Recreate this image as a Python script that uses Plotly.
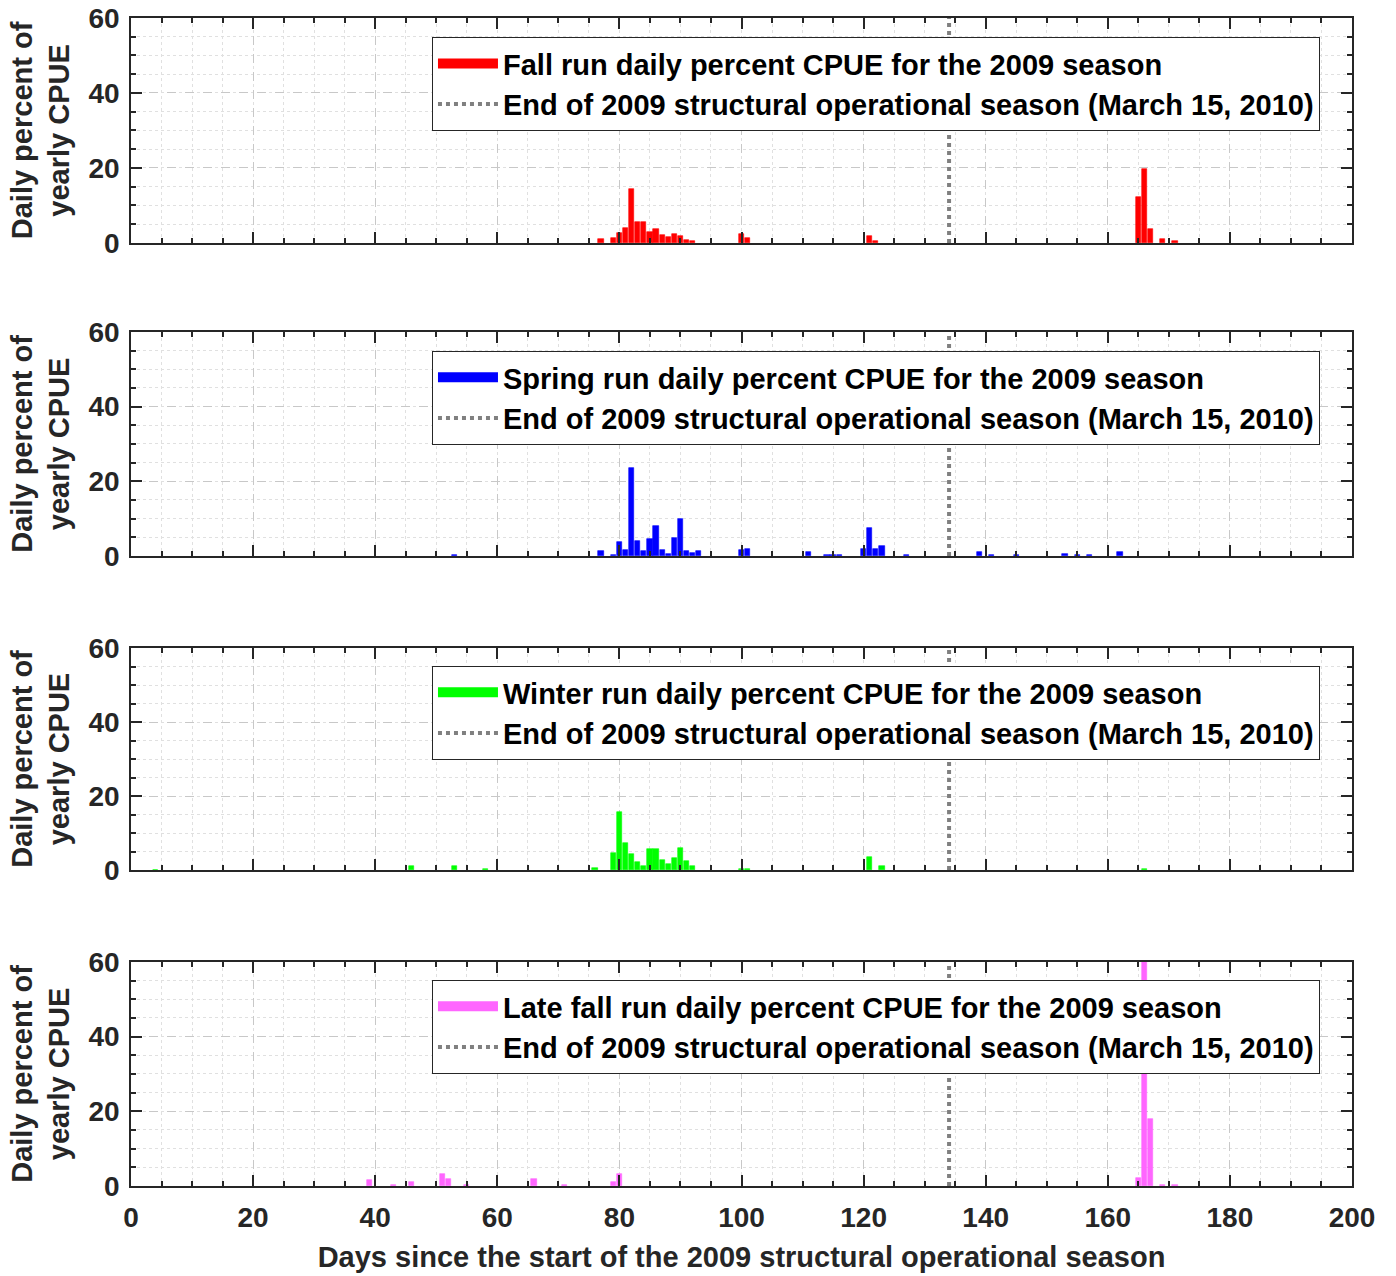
import plotly.graph_objects as go
from plotly.subplots import make_subplots

# ---------------- data ----------------
fall_days = [77, 79, 80, 81, 82, 83, 84, 85, 86, 87, 88, 89, 90, 91, 92, 100, 101, 121, 122, 165, 166, 167, 169, 171]
fall_pct = [1.0, 1.3, 2.7, 3.9, 14.4, 5.5, 5.5, 2.8, 3.8, 2.0, 1.5, 2.4, 1.8, 0.9, 0.4, 2.4, 1.2, 1.9, 0.6, 12.3, 19.6, 3.7, 1.0, 0.6]

spring_days = [53, 77, 79, 80, 81, 82, 83, 84, 85, 86, 87, 88, 89, 90, 91, 92, 93, 100, 101, 111, 114, 115, 116,
               120, 121, 122, 123, 127, 139, 141, 145, 153, 155, 157, 162]
spring_pct = [0.2, 1.4, 0.3, 3.7, 1.6, 23.5, 4.0, 1.3, 4.5, 8.1, 1.5, 0.5, 4.7, 9.8, 1.4, 0.8, 1.3, 1.6, 1.8, 1.0, 0.4, 0.4, 0.4,
              1.8, 7.4, 1.8, 2.8, 0.3, 1.0, 0.3, 0.3, 0.6, 0.3, 0.2, 1.0]

winter_days = [4, 46, 53, 58, 76, 79, 80, 81, 82, 83, 84, 85, 86, 87, 88, 89, 90, 91, 92, 100, 101, 121, 123, 166]
winter_pct = [0.1, 1.2, 1.2, 0.4, 0.6, 4.5, 15.7, 7.2, 4.2, 2.2, 1.1, 5.8, 5.8, 2.7, 1.6, 3.3, 6.0, 2.4, 1.1, 0.3, 0.3, 3.4, 1.2, 0.3]

latefall_days = [39, 43, 46, 51, 52, 55, 66, 71, 79, 80, 165, 166, 167, 169, 171]
latefall_pct = [1.6, 0.3, 1.2, 3.3, 2.0, 0.4, 2.0, 0.3, 1.0, 3.2, 2.2, 75.0, 17.9, 0.3, 0.3]

series_names = [
    "Fall run daily percent CPUE for the 2009 season",
    "Spring run daily percent CPUE for the 2009 season",
    "Winter run daily percent CPUE for the 2009 season",
    "Late fall run daily percent CPUE for the 2009 season",
]
series_colors = ["#ff0000", "#0000ff", "#00ff00", "#ff66ff"]
end_day = 134
end_label = "End of 2009 structural operational season (March 15, 2010)"
x_title = "Days since the start of the 2009 structural operational season"
y_title = "Daily percent of<br>yearly CPUE"
x_ticks = [0, 20, 40, 60, 80, 100, 120, 140, 160, 180, 200]
y_ticks = [0, 20, 40, 60]

series = [(fall_days, fall_pct), (spring_days, spring_pct), (winter_days, winter_pct), (latefall_days, latefall_pct)]

# ---------------- figure ----------------
FONT = "Liberation Sans, Arial, sans-serif"
fig = make_subplots(rows=4, cols=1, shared_xaxes=False)

domains = [[0.8074, 1.0], [0.5394, 0.7312], [0.2705, 0.4606], [0.0, 0.1918]]
legend_tops = [0.9837, 0.7149, 0.4452, 0.1764]
legend_keys = ["legend", "legend2", "legend3", "legend4"]

for i, ((d, v), name, col) in enumerate(zip(series, series_names, series_colors)):
    r = i + 1
    fig.add_trace(go.Bar(x=d, y=v, name=name, marker=dict(color=col, line=dict(width=0.6, color=col)),
                         width=0.85, legend=legend_keys[i], showlegend=False), row=r, col=1)
    # legend-only entry with a wide swatch like the original
    fig.add_trace(go.Scatter(x=[None], y=[None], mode="lines", name=name,
                             line=dict(color=col, width=27),
                             legend=legend_keys[i], showlegend=True), row=r, col=1)
    fig.add_trace(go.Scatter(x=[end_day, end_day], y=[0, 60], mode="lines", name=end_label,
                             line=dict(color="#808080", width=4, dash="dot"),
                             legend=legend_keys[i], showlegend=True), row=r, col=1)

    legend_cfg = dict(x=0.2465, y=legend_tops[i], xanchor="left", yanchor="top",
                      bgcolor="white", bordercolor="#262626", borderwidth=1,
                      font=dict(family=FONT, size=29, color="#000000", weight="bold"),
                      itemwidth=60, tracegroupgap=0)
    fig.update_layout({legend_keys[i]: legend_cfg})

axis_common = dict(showline=True, linecolor="#262626", linewidth=1.5, mirror="ticks",
                   ticks="inside", ticklen=11, tickwidth=1.5, tickcolor="#262626",
                   showgrid=True, gridcolor="#c8c8c8", griddash="dash", gridwidth=1,
                   zeroline=False, automargin=False,
                   tickfont=dict(family=FONT, size=28, color="#262626", weight="bold"))

for i in range(4):
    r = i + 1
    fig.update_xaxes(range=[0, 200], tickvals=x_ticks, showticklabels=(r == 4), ticklabelstandoff=6,
                     minor=dict(dtick=5, tick0=0, ticks="inside", ticklen=5, tickcolor="#262626",
                                showgrid=True, gridcolor="#e0e0e0", griddash="dot"),
                     **axis_common, row=r, col=1)
    fig.update_yaxes(range=[0, 60], tickvals=y_ticks, domain=domains[i], ticklabelstandoff=4,
                     minor=dict(dtick=5, tick0=0, ticks="inside", ticklen=5, tickcolor="#262626",
                                showgrid=True, gridcolor="#e0e0e0", griddash="dot"),
                     title=dict(text=y_title, font=dict(family=FONT, size=29, color="#262626", weight="bold"),
                                standoff=10),
                     **axis_common, row=r, col=1)

fig.update_xaxes(title=dict(text=x_title, font=dict(family=FONT, size=29, color="#262626", weight="bold"),
                            standoff=14), row=4, col=1)

fig.update_layout(width=1396, height=1276, margin=dict(l=131, r=44, t=18, b=90),
                  paper_bgcolor="white", plot_bgcolor="white", bargap=0,
                  font=dict(family=FONT, color="#262626"))

fig.write_html("out.html")
